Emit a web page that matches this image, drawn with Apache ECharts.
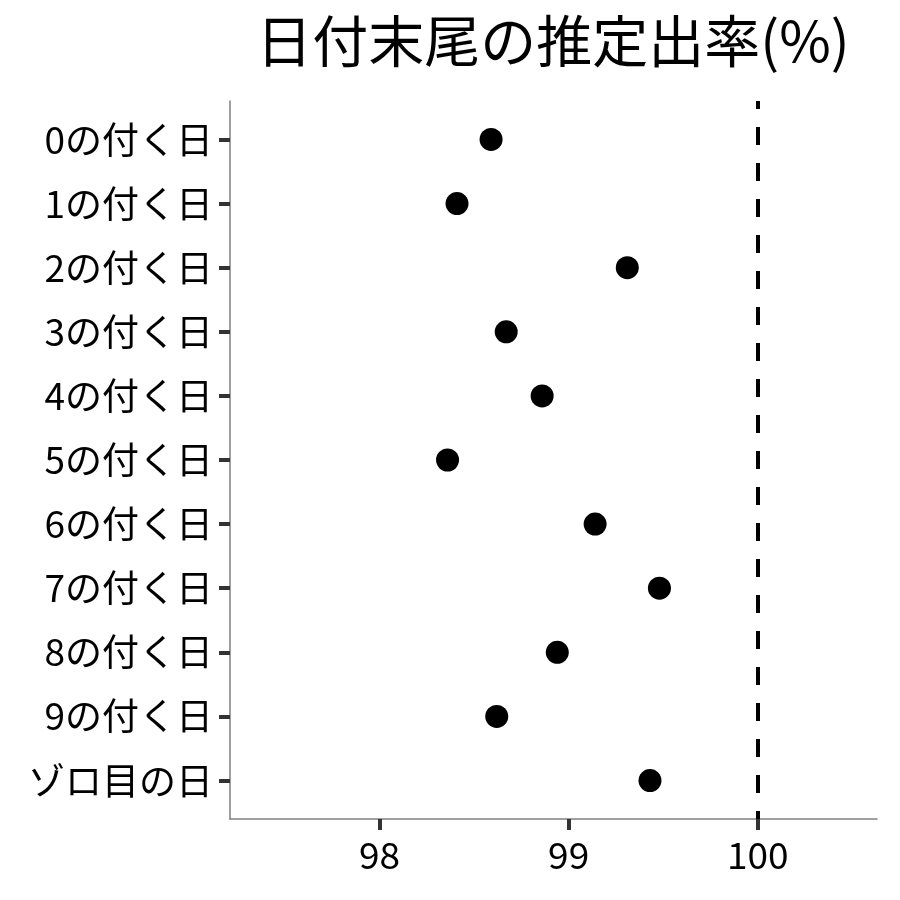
<!DOCTYPE html>
<html>
<head>
<meta charset="utf-8">
<script src="https://cdn.jsdelivr.net/npm/echarts@6/dist/echarts.min.js"></script>
<style>
  html, body { margin: 0; padding: 0; background: #fff; }
  #main { width: 900px; height: 900px; }
</style>
</head>
<body>
<div id="main"></div>
<script>
var myChart = echarts.init(document.getElementById('main'));

// rows, top to bottom
var categories = ['0の付く日', '1の付く日', '2の付く日', '3の付く日', '4の付く日',
  '5の付く日', '6の付く日', '7の付く日', '8の付く日', '9の付く日', 'ゾロ目の日'];
var rates = [98.59, 98.41, 99.31, 98.67, 98.86, 98.36, 99.14, 99.48, 98.94, 98.62, 99.43];
var xTicks = [98, 99, 100];
var refLine = 100;

var font = 'Noto Sans CJK JP';

var points = rates.map(function (v, i) { return [v, i]; });
var rowIdx = categories.map(function (c, i) { return i; });

var option = {
  animation: false,
  title: {
    text: '日付末尾の推定出率(%)',
    left: 548,
    textAlign: 'center',
    top: 8,
    textStyle: { fontFamily: font, fontSize: 56, fontWeight: 'normal', color: '#000' }
  },
  grid: { left: 230, right: 23, top: 101, bottom: 81 },
  xAxis: {
    type: 'value',
    min: 97.21,
    max: 100.63,
    axisLine: { show: true, onZero: false, lineStyle: { color: '#808080', width: 1.5 } },
    axisTick: { show: true, customValues: xTicks, length: 11, lineStyle: { color: '#333', width: 4 } },
    axisLabel: {
      customValues: xTicks, margin: 17,
      fontFamily: font, fontSize: 37, color: '#000'
    },
    splitLine: { show: false }
  },
  yAxis: {
    type: 'value',
    inverse: true,
    min: -0.6,
    max: 10.6,
    axisLine: { show: true, onZero: false, lineStyle: { color: '#808080', width: 1.5 } },
    axisTick: { show: true, customValues: rowIdx, length: 11, lineStyle: { color: '#333', width: 4 } },
    axisLabel: {
      customValues: rowIdx, margin: 17,
      fontFamily: font, fontSize: 37, color: '#000',
      formatter: function (v) { return categories[Math.round(v)]; }
    },
    splitLine: { show: false }
  },
  series: [{
    type: 'scatter',
    data: points,
    symbol: 'circle',
    symbolSize: 23,
    itemStyle: { color: '#000', opacity: 1 },
    markLine: {
      silent: true,
      symbol: 'none',
      label: { show: false },
      lineStyle: { color: '#000', width: 4, type: [18, 18], dashOffset: 10 },
      data: [{ xAxis: refLine }]
    }
  }]
};
myChart.setOption(option);
</script>
</body>
</html>
